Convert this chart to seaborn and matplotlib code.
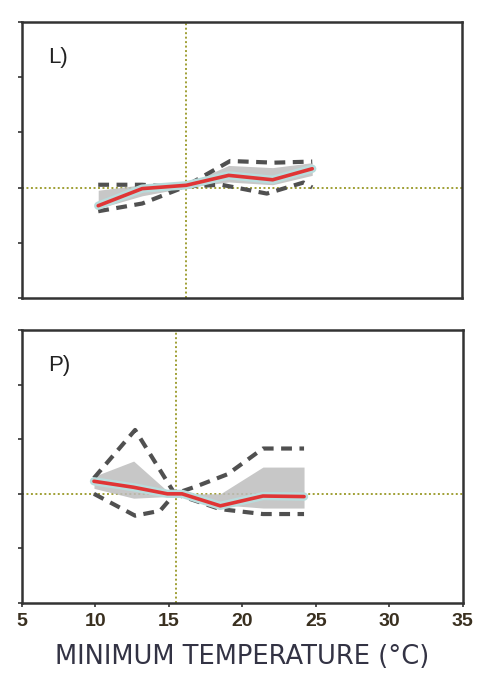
import matplotlib
matplotlib.use("Agg")
import matplotlib.pyplot as plt
import seaborn as sns
import numpy as np
import pandas as pd

# ---- data (y in arbitrary units) ----
x_L = [10.2, 13.2, 16.2, 19.1, 22.1, 24.8]
mean_L = [-0.33, -0.02, 0.04, 0.22, 0.14, 0.34]
band_hi_L = [-0.05, 0.05, 0.06, 0.40, 0.36, 0.45]
band_lo_L = [-0.38, -0.15, 0.0, 0.10, 0.05, 0.22]
dash_hi_x_L = [10.2, 13.2, 16.0, 19.2, 22.2, 24.8]
dash_hi_L = [0.05, 0.05, 0.0, 0.48, 0.45, 0.47]
dash_lo_x_L = [10.2, 13.2, 16.2, 18.6, 21.7, 24.2, 24.8]
dash_lo_L = [-0.43, -0.29, 0.02, 0.05, -0.11, 0.09, 0.0]
vline_L = 16.2

x_P = [9.9, 12.6, 14.9, 15.9, 18.5, 21.4, 24.2]
mean_P = [0.23, 0.12, 0.0, 0.0, -0.22, -0.04, -0.05]
band_hi_P = [0.32, 0.60, 0.05, 0.0, 0.0, 0.49, 0.49]
band_lo_P = [0.10, -0.08, -0.05, 0.0, -0.20, -0.26, -0.26]
dash_hi_x_P = [9.9, 12.7, 15.4, 16.9, 19.0, 21.4, 24.2]
dash_hi_P = [0.29, 1.17, 0.0, 0.14, 0.36, 0.83, 0.83]
dash_lo_x_P = [9.9, 12.7, 14.4, 15.4, 18.5, 21.4, 24.2]
dash_lo_P = [0.0, -0.40, -0.31, 0.0, -0.28, -0.37, -0.37]
vline_P = 15.5

x_ticks = [5, 10, 15, 20, 25, 30, 35]
y_ticks = [-2, -1, 0, 1, 2, 3]
panel_labels = ["L)", "P)"]
x_label = "MINIMUM TEMPERATURE (°C)"

sns.set_style("white")
plt.rcParams['font.family'] = ['Liberation Sans', 'DejaVu Sans']

fig = plt.figure(figsize=(4.78, 6.74), dpi=100)
ax_top = fig.add_axes([0.046, 0.558, 0.920, 0.4095])
ax_bot = fig.add_axes([0.046, 0.1053, 0.922, 0.405])

panels = [
    (ax_top, x_L, mean_L, band_hi_L, band_lo_L, dash_hi_x_L, dash_hi_L, dash_lo_x_L, dash_lo_L, vline_L),
    (ax_bot, x_P, mean_P, band_hi_P, band_lo_P, dash_hi_x_P, dash_hi_P, dash_lo_x_P, dash_lo_P, vline_P),
]

dotcol = '#a0a035'
for i, (ax, xs, m, bh, bl, dhx, dh, dlx, dl, vx) in enumerate(panels):
    ax.axhline(0, color=dotcol, lw=1.4, ls=(0, (1, 1.3)), zorder=1)
    ax.axvline(vx, color=dotcol, lw=1.4, ls=(0, (1, 1.3)), zorder=1)
    ax.fill_between(xs, bl, bh, color='#bdbdbd', alpha=0.85, lw=0, zorder=2)
    df_hi = pd.DataFrame({'x': dhx, 'y': dh})
    df_lo = pd.DataFrame({'x': dlx, 'y': dl})
    sns.lineplot(data=df_hi, x='x', y='y', ax=ax, color='#505050', lw=3,
                 dashes=False, zorder=3, sort=False)
    sns.lineplot(data=df_lo, x='x', y='y', ax=ax, color='#505050', lw=3,
                 dashes=False, zorder=3, sort=False)
    for ln in ax.lines[-2:]:
        ln.set_linestyle((0, (2.6, 1.8)))
    df_m = pd.DataFrame({'x': xs, 'y': m})
    sns.lineplot(data=df_m, x='x', y='y', ax=ax, color='#b8dcdc', lw=6, zorder=4, sort=False)
    sns.lineplot(data=df_m, x='x', y='y', ax=ax, color='#e03535', lw=2.6, zorder=5, sort=False)

    ax.set_xlim(5, 35)
    ax.set_ylim(-2, 3)
    ax.set_xticks(x_ticks)
    ax.set_yticks(y_ticks)
    ax.set_yticklabels([])
    ax.set_ylabel('')
    ax.set_xlabel('')
    for sp in ax.spines.values():
        sp.set_color('#333333')
        sp.set_linewidth(1.8)
    ax.tick_params(axis='y', direction='out', length=3, width=1.2, color='#333333', left=True)
    ax.tick_params(axis='x', direction='out', length=3, width=1.2, color='#333333', bottom=True)
    ax.text(0.06, 0.87, panel_labels[i], transform=ax.transAxes,
            fontsize=16, color='#222222', va='center', ha='left')

ax_top.set_xticklabels([])
ax_top.tick_params(axis='x', length=0)
ax_bot.set_xticklabels([str(t) for t in x_ticks], fontsize=14, fontweight='bold', color='#3a3020')
ax_bot.tick_params(axis='x', pad=4)
ax_bot.set_xlabel(x_label, fontsize=18.5, color='#333344', labelpad=10,
                  fontfamily=['DejaVu Sans'])

fig.savefig('out.png', dpi=100)
